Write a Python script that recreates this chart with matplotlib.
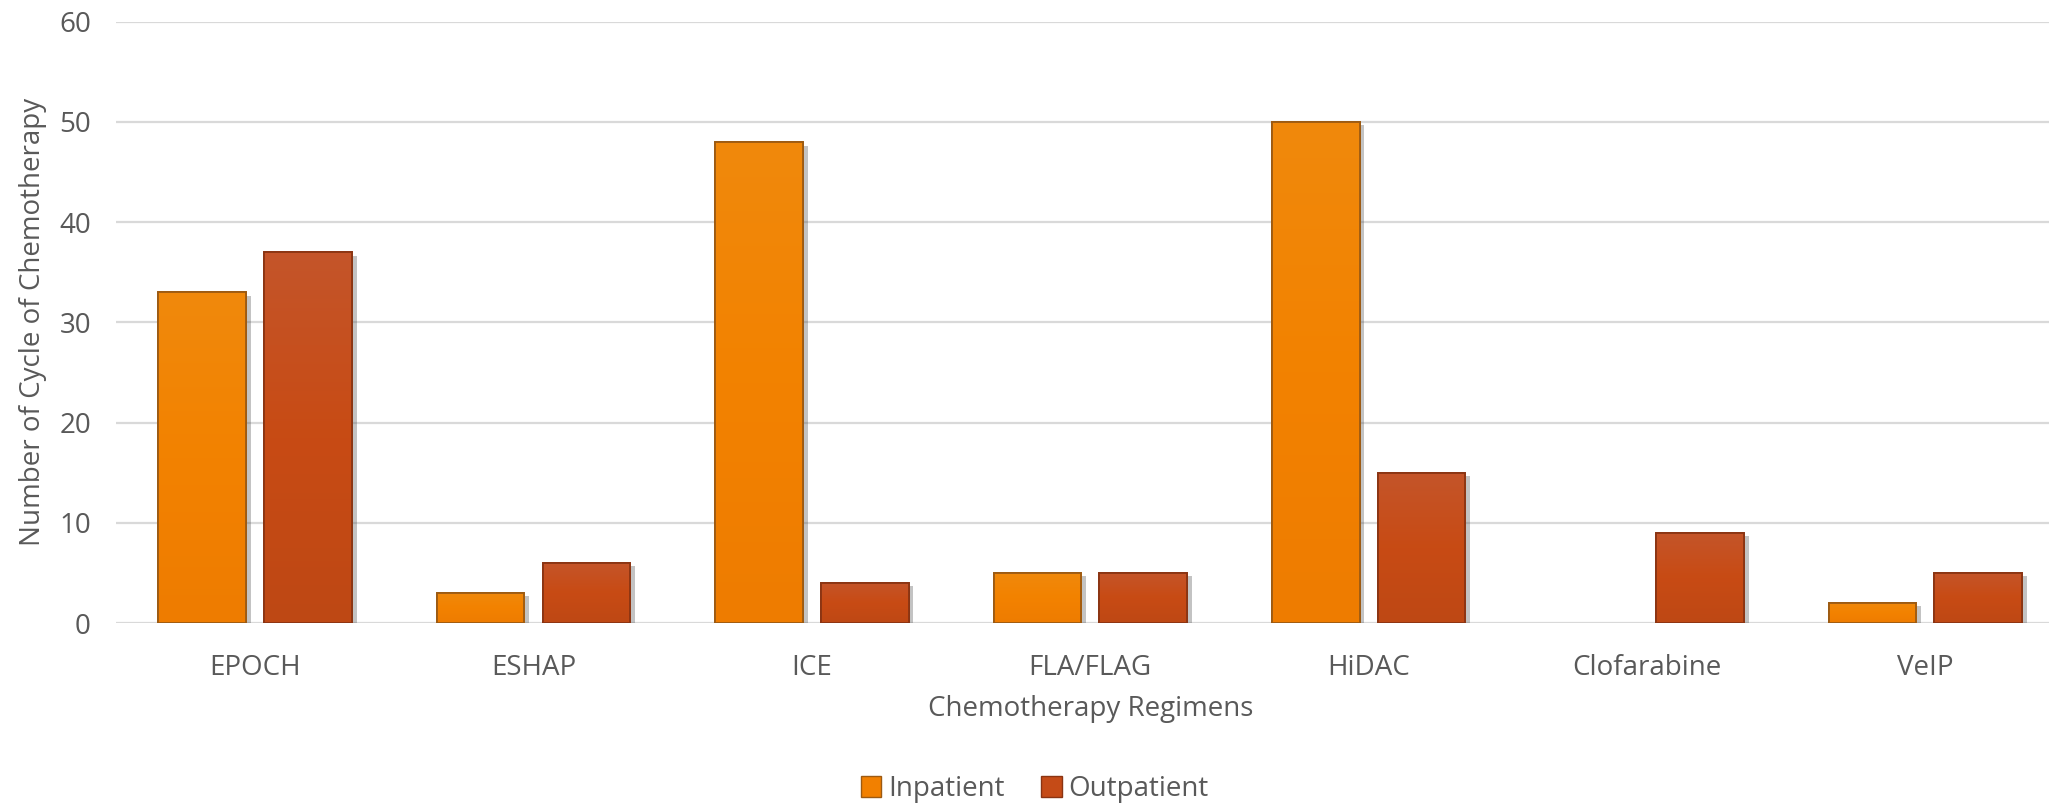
import numpy as np
import matplotlib
matplotlib.use("Agg")
import matplotlib.pyplot as plt
from matplotlib.colors import LinearSegmentedColormap
from matplotlib.patches import Patch
import matplotlib.patheffects as pe

plt.rcParams['font.family'] = ['Open Sans', 'DejaVu Sans']

# Data
regimens = ['EPOCH', 'ESHAP', 'ICE', 'FLA/FLAG', 'HiDAC', 'Clofarabine', 'VeIP']
inpatient = [33, 3, 48, 5, 50, 0, 2]
outpatient = [37, 6, 4, 5, 15, 9, 5]
series_names = ['Inpatient', 'Outpatient']

text_col = '#595959'
grid_col = '#D9D9D9'
face_cols = ['#F28000', '#C54B17']
edge_cols = ['#9C5A12', '#8A3412']
grad_maps = [
    LinearSegmentedColormap.from_list('inp', ['#EE7C00', '#F38200', '#F0890C']),
    LinearSegmentedColormap.from_list('outp', ['#BE4815', '#C84B14', '#C4552A']),
]
fs = 20

fig = plt.figure(figsize=(20.49, 8.07), dpi=100)
ax = fig.add_axes([0.0566, 0.228, 0.951, 0.745])

x = np.arange(len(regimens))
w = 0.315
off = 0.19

for k, vals in enumerate([inpatient, outpatient]):
    xs = x + (off if k else -off)
    bars = ax.bar(xs, vals, width=w, color=face_cols[k],
                  edgecolor=[edge_cols[k] if v > 0 else 'none' for v in vals],
                  linewidth=1.3, zorder=3,
                  path_effects=[pe.SimplePatchShadow(offset=(3.5, -2.5), shadow_rgbFace='#555555', alpha=0.35),
                                pe.Normal()])
    grad = np.linspace(0, 1, 256).reshape(-1, 1)
    for b, v in zip(bars, vals):
        if v <= 0:
            continue
        x0, y0 = b.get_x(), b.get_y()
        im = ax.imshow(grad, extent=[x0, x0 + b.get_width(), y0, y0 + b.get_height()],
                       origin='lower', aspect='auto', cmap=grad_maps[k], zorder=3.1)
        im.set_clip_path(b)
        # redraw edge on top of gradient
        ax.bar(b.get_x() + b.get_width() / 2, v, width=b.get_width(), color='none',
               edgecolor=edge_cols[k], linewidth=1.3, zorder=3.2)

ax.set_xlim(-0.5, len(regimens) - 0.5)
ax.set_ylim(0, 60)
ax.set_yticks(range(0, 61, 10))
ax.set_xticks(x)
ax.set_xticklabels(regimens)
ax.yaxis.grid(True, color=grid_col, linewidth=1.6, zorder=0)
ax.set_axisbelow(True)
for s in ax.spines.values():
    s.set_visible(False)
ax.tick_params(axis='both', length=0, labelsize=fs, colors=text_col)
ax.tick_params(axis='x', pad=22)
ax.tick_params(axis='y', pad=18)
ax.axhline(0, color=grid_col, linewidth=1.8, zorder=2)

ax.set_xlabel('Chemotherapy Regimens', fontsize=fs, color=text_col, labelpad=10)
ax.set_ylabel('Number of Cycle of Chemotherapy', fontsize=fs, color=text_col, labelpad=9)

handles = [Patch(facecolor=face_cols[i], edgecolor=edge_cols[i], label=series_names[i]) for i in range(2)]
fig.legend(handles=handles, loc='center', bbox_to_anchor=(0.505, 0.022), ncol=2, frameon=False,
           fontsize=fs, labelcolor=text_col, handlelength=0.75, handleheight=0.75,
           handletextpad=0.25, columnspacing=1.3)

fig.savefig('out.png', dpi=100)
